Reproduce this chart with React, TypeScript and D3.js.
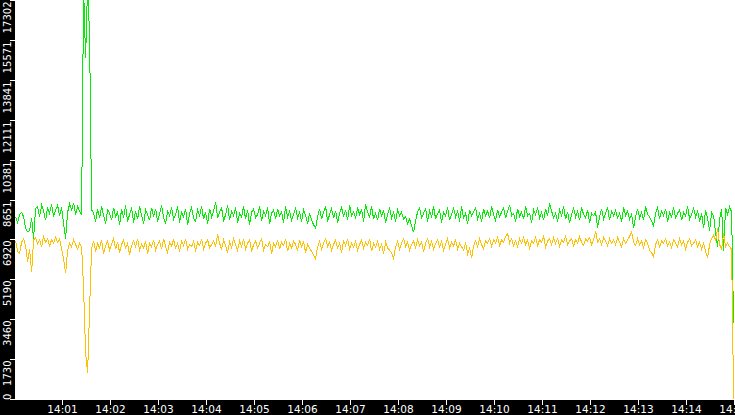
import React, { useEffect, useRef } from 'react';
import * as d3 from 'd3';

// one sample every 2.5 s starting at 14:00:02
const green: number[] = [
  7900, 7650, 8000, 8100, 7900, 7400, 7250, 7300, 7850, 6950,
  8250, 8350, 7900, 8400, 8150, 7750, 8300, 8050, 8450, 7900,
  8200, 8400, 7950, 8300, 7600, 6950, 8100, 8450, 8200, 8500,
  8000, 8350, 8150, 8000, 17800, 14800, 18000, 15700, 8200, 8050,
  7700, 8250, 7850, 8350, 7950, 7600, 8200, 8050, 7750, 8300,
  7900, 8100, 7550, 8250, 7850, 8400, 7700, 8000, 8300, 7650,
  8150, 7800, 8350, 7950, 7600, 8200, 8000, 7750, 8300, 7900,
  8250, 7700, 8050, 8400, 7850, 7600, 8150, 7950, 8300, 7800,
  8000, 8350, 7650, 8100, 7900, 8250, 7550, 8050, 8300, 7850,
  7700, 8200, 7950, 8350, 7800, 8100, 7600, 8250, 7900, 8150,
  8550, 7850, 8100, 8300, 7700, 8000, 8400, 7750, 8150, 7950,
  8300, 7650, 8050, 7900, 8350, 7800, 8200, 7550, 8100, 8250,
  7850, 8000, 8350, 7700, 8150, 7950, 8300, 7600, 8050, 8200,
  7800, 8250, 7950, 8100, 7650, 8350, 7900, 8150, 7750, 8000,
  8300, 7850, 8100, 7700, 8200, 7950, 7600, 8050, 7750, 7550,
  7400, 7900, 8250, 7800, 8100, 8350, 7700, 8000, 8250, 7850,
  8150, 7650, 8050, 8300, 7900, 8200, 7750, 8400, 7950, 8100,
  7850, 8300, 8000, 8200, 7700, 8450, 8100, 7900, 8350, 7800,
  8050, 7750, 8250, 7950, 8150, 7650, 8000, 8300, 7850, 8100,
  7700, 8200, 7950, 8100, 7800, 7900, 7600, 7800, 7500, 7230,
  7750, 8100, 8300, 7850, 8050, 8250, 7700, 8150, 7900, 8350,
  7800, 8050, 8200, 7650, 8100, 7950, 8300, 7750, 8000, 8250,
  7900, 8150, 7700, 8350, 7850, 8050, 7600, 8200, 7950, 8100,
  8300, 7800, 8050, 7700, 8250, 7950, 8150, 7850, 8350, 8000,
  7750, 8200, 7900, 8100, 8300, 7850, 8150, 8420, 7950, 8050,
  7700, 8250, 7900, 8100, 7800, 8350, 7950, 8050, 7650, 8200,
  8000, 8300, 7850, 8100, 7750, 8250, 7950, 8480, 8150, 7850,
  8050, 7700, 8200, 7950, 8350, 7800, 8100, 7650, 8000, 8250,
  7900, 8150, 7750, 8300, 8000, 7850, 8200, 7650, 8050, 7950,
  8100, 7430, 7900, 8250, 7800, 8050, 8300, 7750, 8150, 7950,
  8200, 7850, 8050, 7700, 8300, 7950, 8150, 7800, 8000, 7420,
  7900, 8250, 7850, 8100, 7750, 8350, 8000, 7900, 7700, 7500,
  8050, 8300, 7800, 8150, 7950, 8250, 7700, 8100, 7900, 8300,
  7850, 8050, 8200, 7750, 8100, 7950, 8350, 7800, 8000, 8250,
  7900, 8150, 7700, 8050, 7400, 8200, 7850, 7300, 8100, 7950,
  7200, 6600, 7800, 8250, 6400, 8300, 8000, 8350, 8100, 3300,
];

const orange: number[] = [
  6850, 6400, 6300, 6800, 6950, 6650, 5950, 6500, 5500, 6900,
  7000, 6750, 6900, 6600, 7050, 6800, 6950, 6650, 6900, 6750,
  7000, 6800, 6950, 6500, 6050, 5450, 6450, 6750, 6600, 6900,
  6700, 6500, 6750, 6600, 4800, 2000, 1150, 3900, 6500, 6850,
  6400, 6750, 6550, 6900, 6300, 6650, 6850, 6450, 6700, 6950,
  6500, 6800, 6350, 6700, 6900, 6550, 6750, 6250, 6650, 6850,
  6600, 6950, 6450, 6700, 6550, 6850, 6300, 6750, 6600, 6900,
  6450, 6700, 6850, 6500, 6950, 6600, 6350, 6800, 6650, 6900,
  6550, 6750, 6400, 6850, 6650, 6950, 6500, 6700, 6600, 6850,
  6400, 6800, 6650, 6950, 6500, 6750, 6900, 6550, 6700, 6850,
  6600, 7150, 6750, 6500, 6900, 6650, 6350, 6800, 6550, 6950,
  6700, 6450, 6850, 6600, 6950, 6500, 6750, 6900, 6400, 6700,
  6850, 6550, 6750, 6950, 6450, 6700, 6600, 6850, 6300, 6750,
  6600, 6900, 6500, 6800, 6650, 6950, 6400, 6750, 6550, 6850,
  6700, 6450, 6900, 6600, 6800, 6350, 6700, 6550, 6400, 6250,
  6070, 6600, 6850, 6500, 6750, 6950, 6600, 6800, 6450, 6700,
  6900, 6550, 6750, 6350, 6850, 6650, 6950, 6500, 6750, 6600,
  6850, 6450, 6700, 6900, 6550, 6800, 6650, 6950, 6400, 6750,
  6600, 6850, 6500, 6700, 6300, 6800, 6550, 6450, 6350, 6100,
  6600, 6850, 6500, 6750, 6950, 6600, 6800, 6450, 6700, 6850,
  6550, 6900, 6650, 6800, 6400, 6750, 6950, 6600, 6850, 6500,
  6750, 6900, 6600, 6850, 6450, 6700, 6950, 6550, 6800, 6650,
  6900, 6500, 6750, 6600, 6450, 6800, 6300, 6550, 6100, 6650,
  6850, 6600, 6950, 6700, 6500, 6850, 6750, 6950, 6600, 6900,
  6750, 7000, 6650, 6900, 6800, 7050, 7180, 6750, 6950, 6650,
  6850, 6600, 6950, 6750, 7000, 6700, 6900, 6550, 6850, 6750,
  7000, 6650, 6900, 6800, 7050, 6600, 6850, 6950, 6700, 7000,
  6750, 6950, 6600, 6900, 6800, 7050, 6700, 6850, 6950, 6650,
  6900, 6750, 7050, 6800, 6650, 6950, 6850, 7000, 6700, 6900,
  7280, 6800, 6950, 6700, 7000, 6850, 6650, 6950, 6750, 6900,
  6700, 7000, 6800, 6600, 6950, 6750, 6900, 7050, 7250, 6800,
  6650, 6950, 6700, 6850, 6550, 6900, 6750, 6450, 6350, 6170,
  6700, 6900, 6600, 6850, 6750, 6950, 6650, 6800, 6550, 6900,
  6750, 6600, 6950, 6700, 6850, 6500, 6800, 6950, 6650, 6750,
  6900, 6600, 6800, 6500, 6750, 6400, 6100, 6700, 6950, 7100,
  6850, 7400, 6700, 6500, 7200, 6600, 6750, 6600, 6500, 0,
];

const yTickLabels = [0, 1730, 3460, 5190, 6920, 8651, 10381, 12111, 13841, 15571, 17302];
const xTickLabels = ['14:01', '14:02', '14:03', '14:04', '14:05', '14:06', '14:07', '14:08',
  '14:09', '14:10', '14:11', '14:12', '14:13', '14:14', '14:15'];

const t0 = new Date(2020, 0, 1, 14, 0, 0);
const firstSample = new Date(2020, 0, 1, 14, 0, 2);
const stepMs = 2500;

const W = 735;
const H = 415;
const axisLeft = 15;
const axisBottom = 400;
const font = "'DejaVu Sans', Verdana, sans-serif";

const App: React.FC = () => {
  const ref = useRef<SVGSVGElement | null>(null);

  useEffect(() => {
    if (!ref.current) return;
    const svg = d3.select(ref.current);
    svg.selectAll('*').remove();

    const x = d3.scaleTime()
      .domain([t0, d3.timeMinute.offset(t0, 15)])
      .range([14, 734]);
    const y = d3.scaleLinear().domain([0, 17302]).range([399, 0]);
    const tAt = (i: number) => new Date(firstSample.getTime() + i * stepMs);

    svg.append('rect').attr('width', W).attr('height', H).attr('fill', '#fff');

    svg.append('clipPath').attr('id', 'plot')
      .append('rect')
      .attr('x', axisLeft).attr('y', 0)
      .attr('width', W - axisLeft).attr('height', axisBottom);

    const line = d3.line<number>()
      .x((_, i) => x(tAt(i)))
      .y(d => y(d));

    const g = svg.append('g').attr('clip-path', 'url(#plot)');
    g.append('path').datum(green)
      .attr('d', line)
      .attr('fill', 'none')
      .attr('stroke', '#00ee00')
      .attr('stroke-width', 1)
      .attr('shape-rendering', 'crispEdges');
    g.append('path').datum(orange)
      .attr('d', line)
      .attr('fill', 'none')
      .attr('stroke', '#ffc000')
      .attr('stroke-width', 1)
      .attr('shape-rendering', 'crispEdges');

    // black axis strips
    svg.append('rect').attr('x', 0).attr('y', 0).attr('width', axisLeft).attr('height', H).attr('fill', '#000');
    svg.append('rect').attr('x', 0).attr('y', axisBottom).attr('width', W).attr('height', H - axisBottom).attr('fill', '#000');

    // y axis: rotated labels hanging under each tick
    const yt = svg.append('g');
    yTickLabels.forEach(v => {
      const py = Math.round(y(v)) + 0.5;
      yt.append('line')
        .attr('x1', 10).attr('x2', axisLeft)
        .attr('y1', py).attr('y2', py)
        .attr('stroke', '#fff')
        .attr('shape-rendering', 'crispEdges');
      const under = v !== 0;
      const ly = under ? py + 1 : axisBottom;
      yt.append('text')
        .attr('transform', `translate(11,${ly}) rotate(-90)`)
        .attr('text-anchor', under ? 'end' : 'start')
        .attr('fill', '#fff')
        .style('font-family', font)
        .style('font-size', '10px')
        .text(String(v));
    });

    // x axis
    const xt = svg.append('g');
    xTickLabels.forEach((label, i) => {
      const px = Math.round(x(d3.timeMinute.offset(t0, i + 1))) + 0.5;
      xt.append('line')
        .attr('x1', px).attr('x2', px)
        .attr('y1', axisBottom).attr('y2', axisBottom + 5)
        .attr('stroke', '#fff')
        .attr('shape-rendering', 'crispEdges');
      xt.append('text')
        .attr('x', px).attr('y', 413)
        .attr('text-anchor', 'middle')
        .attr('fill', '#fff')
        .style('font-family', font)
        .style('font-size', '10.5px')
        .text(label);
    });
  }, []);

  return (
    <>
      <style>{'body{margin:0}'}</style>
      <svg ref={ref} width={W} height={H} style={{ display: 'block' }} />
    </>
  );
};

export default App;
